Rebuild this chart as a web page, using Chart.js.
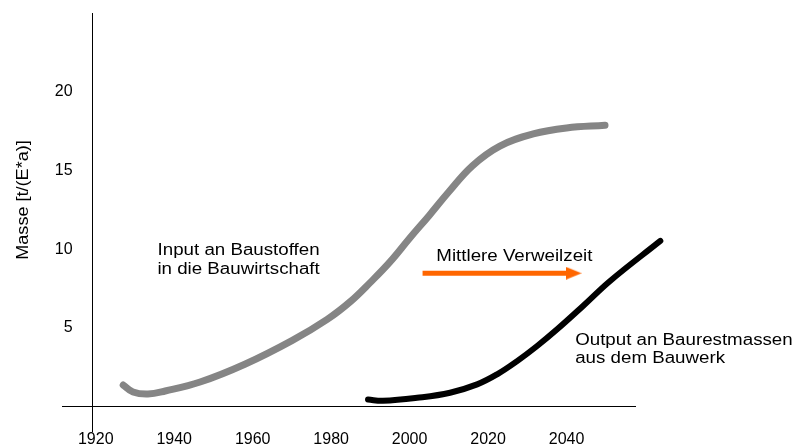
<!DOCTYPE html>
<html><head><meta charset="utf-8">
<script src="https://cdn.jsdelivr.net/npm/chart.js@4/dist/chart.umd.min.js"></script>
<style>html,body{margin:0;padding:0;background:#fff}#wrap{width:802px;height:448px}</style>
</head><body><div id="wrap"><canvas id="c" width="802" height="448"></canvas></div>
<script>
// ---- data ----
const xTickValues = [1920, 1940, 1960, 1980, 2000, 2020, 2040];
const yTickValues = [0, 5, 10, 15, 20];
const inputYears  = [1927, 1929.5, 1933.3, 1937.7, 1946.6, 1958.0, 1970.0, 1979.0, 1985.0, 1990.0, 1995.0, 2000.0, 2005.0, 2010.0, 2016.0, 2023.0, 2031.5, 2040.0, 2049.8];
const inputValues = [1.38, 0.94, 0.81, 1.0, 1.57, 2.7, 4.2, 5.55, 6.7, 7.9, 9.2, 10.7, 12.15, 13.65, 15.3, 16.55, 17.32, 17.7, 17.87];
const outputYears  = [1989.4, 1993.2, 2001.9, 2010.3, 2017.2, 2022.3, 2027.4, 2032.5, 2037.6, 2044.2, 2051.1, 2063.9];
const outputValues = [0.46, 0.38, 0.57, 0.89, 1.42, 2.06, 2.9, 3.86, 4.92, 6.4, 7.99, 10.53];
const arrowYears  = [2003.3, 2041.8];
const arrowValues = [8.48, 8.48];
const yTitle = 'Masse [t/(E*a)]';
const notes = [
  {text: 'Input an Baustoffen',     x: 1956.4, y: 9.64, align: 'center'},
  {text: 'in die Bauwirtschaft',    x: 1956.4, y: 8.41, align: 'center'},
  {text: 'Mittlere Verweilzeit',    x: 2026.7, y: 9.26, align: 'center'},
  {text: 'Output an Baurestmassen', x: 2042.2, y: 3.92, align: 'left'},
  {text: 'aus dem Bauwerk',         x: 2042.2, y: 2.76, align: 'left'}
];
const titlePos = {x: 1901.5, y: 13.13};
const yAxisAt = 1919.2;      // where the vertical axis crosses the x scale
const yLabelsAt = 1914.1;    // right edge of the y tick labels

// ---- styling ----
const FONT = '"Liberation Sans", Arial, Helvetica, sans-serif';
const STRETCH = 1.17;
const Y_MIN = -1.55, Y_MAX = 25;

const head = document.createElement('canvas');
head.width = 16; head.height = 13;
(function(){ const g = head.getContext('2d'); g.fillStyle = '#FF6600'; g.beginPath(); g.moveTo(0,0); g.lineTo(16,6.5); g.lineTo(0,13); g.closePath(); g.fill(); })();

const pts = (xs, ys) => xs.map((x, i) => ({x, y: ys[i]}));

const textPlugin = {
  id: 'notes',
  afterDatasetsDraw(chart) {
    const {ctx, scales: {x, y}} = chart;
    ctx.save();
    ctx.fillStyle = '#000';
    ctx.font = '16px ' + FONT;
    ctx.textBaseline = 'alphabetic';
    notes.forEach(n => {
      ctx.save();
      ctx.translate(x.getPixelForValue(n.x), y.getPixelForValue(n.y));
      ctx.scale(STRETCH, 1);
      ctx.textAlign = n.align;
      ctx.fillText(n.text, 0, 0);
      ctx.restore();
    });
    ctx.save();
    ctx.translate(x.getPixelForValue(titlePos.x), y.getPixelForValue(titlePos.y));
    ctx.rotate(-Math.PI / 2);
    ctx.scale(1.13, 1);
    ctx.textAlign = 'center';
    ctx.textBaseline = 'middle';
    ctx.fillText(yTitle, 0, 0);
    ctx.restore();
    ctx.restore();
  }
};

const noPad = s => { s.paddingTop = 0; s.paddingBottom = 0; };

new Chart(document.getElementById('c'), {
  type: 'line',
  data: {
    datasets: [
      {label: 'Input', data: pts(inputYears, inputValues), borderColor: '#858585', borderWidth: 7,
       borderCapStyle: 'round', borderJoinStyle: 'round', pointRadius: 0, tension: 0.4, clip: false},
      {label: 'Output', data: pts(outputYears, outputValues), borderColor: '#000000', borderWidth: 6,
       borderCapStyle: 'round', borderJoinStyle: 'round', pointRadius: 0, tension: 0.4, clip: false},
      {label: 'Verweilzeit', data: pts(arrowYears, arrowValues), borderColor: '#FF6600', borderWidth: 5,
       borderCapStyle: 'butt', pointRadius: [0, 8], pointStyle: head, pointRotation: 0, tension: 0, clip: false}
    ]
  },
  options: {
    responsive: false,
    animation: false,
    devicePixelRatio: 1,
    layout: {padding: {left: 62, right: 166, top: 12, bottom: 0}},
    plugins: {legend: {display: false}, tooltip: {enabled: false}},
    scales: {
      x: {
        type: 'linear', min: 1911.4, max: 2057.7, position: 'bottom',
        afterBuildTicks: s => { s.ticks = xTickValues.map(v => ({value: v})); },
        ticks: {font: {family: FONT, size: 16, lineHeight: 0.8}, color: '#000', padding: 2, maxRotation: 0, autoSkip: false,
                callback: v => String(v)},
        grid: {display: false, drawTicks: false},
        border: {display: false}
      },
      y: {
        type: 'linear', min: Y_MIN, max: Y_MAX, position: {x: yAxisAt},
        afterBuildTicks: s => { s.ticks = yTickValues.map(v => ({value: v})); },
        afterFit: noPad,
        ticks: {display: false},
        grid: {drawTicks: false, lineWidth: 1,
               color: c => (c.tick && c.tick.value === 0) ? '#000' : 'rgba(0,0,0,0)'},
        border: {display: true, color: '#000', width: 1}
      },
      yLabels: {
        type: 'linear', axis: 'y', min: Y_MIN, max: Y_MAX, position: {x: yLabelsAt},
        afterBuildTicks: s => { s.ticks = yTickValues.map(v => ({value: v})); },
        afterFit: noPad,
        ticks: {font: {family: FONT, size: 16}, color: '#000', padding: 0, callback: v => v === 0 ? '' : String(v)},
        grid: {display: false, drawTicks: false},
        border: {display: false}
      }
    }
  },
  plugins: [textPlugin]
});
</script>
</body></html>
